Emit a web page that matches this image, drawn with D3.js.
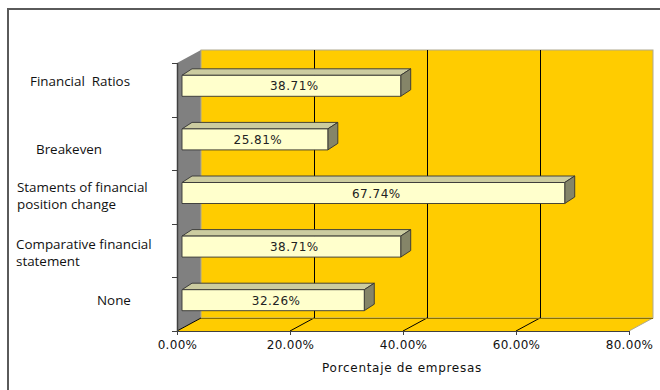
<!DOCTYPE html>
<html>
<head>
<meta charset="utf-8">
<script src="https://cdn.jsdelivr.net/npm/d3@7/dist/d3.min.js"></script>
<style>
  html, body { margin: 0; padding: 0; background: #fff; }
  svg { display: block; }
  .cat text, .cat tspan { white-space: pre; }
</style>
</head>
<body>
<svg id="chart" width="660" height="390"></svg>
<script>
// Category labels (one entry per line of text), values in percent, axis ticks
const categories = ["Financial Ratios", "Breakeven", "Statements change", "Comparative", "None"];
const categoryLines = [
  ["Financial  Ratios"],
  ["Breakeven"],
  ["Staments of financial", "position change"],
  ["Comparative financial", "statement"],
  ["None"]
];
const values = [38.71, 25.81, 67.74, 38.71, 32.26];
const tickValues = [0, 20, 40, 60, 80];
const axisTitle = "Porcentaje de empresas";

const svg = d3.select("#chart");

// Plot frame (front plane) and depth of the 3-D box
const frontLeft = 177, frontRight = 629, frontTop = 63, frontBottom = 331;
const depthX = 24, depthY = -13;

const x = d3.scaleLinear().domain([0, 80]).range([frontLeft, frontRight]);
const y = d3.scaleBand().domain(categories).range([frontTop, frontBottom]).padding(0);

// Outer chart border
svg.append("rect")
  .attr("x", 8).attr("y", 9).attr("width", 700).attr("height", 420)
  .attr("fill", "none").attr("stroke", "#5a5a5a").attr("stroke-width", 2);

const poly = pts => pts.map(p => p.join(",")).join(" ");

// Left side wall (grey)
svg.append("polygon")
  .attr("points", poly([[frontLeft, frontTop], [frontLeft + depthX, frontTop + depthY],
                        [frontLeft + depthX, frontBottom + depthY], [frontLeft, frontBottom]]))
  .attr("fill", "#808080");

// Back wall
svg.append("rect")
  .attr("x", frontLeft + depthX).attr("y", frontTop + depthY)
  .attr("width", frontRight - frontLeft).attr("height", frontBottom - frontTop)
  .attr("fill", "#FFCC00").attr("stroke", "#b0aa90").attr("stroke-width", 1);

// Floor
svg.append("polygon")
  .attr("points", poly([[frontLeft, frontBottom], [frontRight, frontBottom],
                        [frontRight + depthX, frontBottom + depthY], [frontLeft + depthX, frontBottom + depthY]]))
  .attr("fill", "#FFCC00");

// Floor right edge
svg.append("line")
  .attr("x1", frontRight).attr("y1", frontBottom)
  .attr("x2", frontRight + depthX).attr("y2", frontBottom + depthY)
  .attr("stroke", "#b0aa90").attr("stroke-width", 1);

// Gridlines: vertical on back wall, diagonal across the floor
const inner = tickValues.filter(v => v > 0 && v < 80);
const grid = svg.append("g").attr("stroke", "#000").attr("stroke-width", 1);
grid.selectAll("line.v").data(inner).join("line")
  .attr("class", "v")
  .attr("x1", d => Math.round(x(d) + depthX) + 0.5).attr("x2", d => Math.round(x(d) + depthX) + 0.5)
  .attr("y1", frontTop + depthY).attr("y2", frontBottom + depthY);
grid.selectAll("line.f").data(tickValues.filter(v => v < 80)).join("line")
  .attr("class", "f")
  .attr("x1", d => x(d)).attr("y1", frontBottom)
  .attr("x2", d => x(d) + depthX).attr("y2", frontBottom + depthY);
// Back edge line of the floor
grid.append("line")
  .attr("x1", frontLeft + depthX).attr("x2", frontRight + depthX)
  .attr("y1", frontBottom + depthY + 0.5).attr("y2", frontBottom + depthY + 0.5)
  .attr("stroke", "#8a7000");

// Axes
const axisColor = "#404040";
const xAxis = d3.axisBottom(x).tickValues(tickValues).tickSize(4).tickSizeOuter(0)
  .tickFormat(d => d3.format(".2f")(d) + "%");
const gx = svg.append("g").attr("transform", `translate(0,${frontBottom})`).call(xAxis);
gx.select(".domain").attr("stroke", axisColor);
gx.selectAll(".tick line").attr("stroke", axisColor);
gx.selectAll(".tick text")
  .attr("y", 9)
  .attr("font-family", "DejaVu Sans, Verdana, sans-serif")
  .attr("font-size", 12).attr("letter-spacing", 0.3)
  .attr("fill", "#111");

// Category axis: a line with ticks on band boundaries
const gy = svg.append("g");
gy.append("line")
  .attr("x1", frontLeft + 0.5).attr("x2", frontLeft + 0.5)
  .attr("y1", frontTop).attr("y2", frontBottom)
  .attr("stroke", axisColor).attr("stroke-width", 1.5);
const boundaries = categories.map(c => y(c)).concat([frontBottom]);
gy.selectAll("line.t").data(boundaries).join("line")
  .attr("class", "t")
  .attr("x1", frontLeft - 5).attr("x2", frontLeft)
  .attr("y1", d => Math.round(d) + 0.5).attr("y2", d => Math.round(d) + 0.5)
  .attr("stroke", axisColor);

// Category labels, hand-placed per line block
const labelLayout = [
  { x: 30, dy: -8 },
  { x: 36, dy: 6.5 },
  { x: 17, dy: -1 },
  { x: 16, dy: 2 },
  { x: 97, dy: -3.5 }
];
const lineHeight = 16.8;
const catText = svg.append("g").attr("class", "cat")
  .attr("font-family", "'Open Sans', sans-serif")
  .attr("font-size", 13.4).attr("fill", "#111");
categories.forEach((c, i) => {
  const lines = categoryLines[i];
  const cy = y(c) + y.bandwidth() / 2 + labelLayout[i].dy;
  const t = catText.append("text").attr("x", labelLayout[i].x);
  lines.forEach((ln, k) => {
    t.append("tspan")
      .attr("x", labelLayout[i].x)
      .attr("y", cy + (k - (lines.length - 1) / 2) * lineHeight + 4.5)
      .text(ln);
  });
});

// 3-D bars
const barOffX = 5, barOffY = -4;       // position of the bar front inside the box depth
const barDX = 10, barDY = -6.5;         // bar depth
const barH = 21;
const bars = svg.append("g").attr("stroke", "#333").attr("stroke-width", 0.9).attr("stroke-linejoin", "round");
categories.forEach((c, i) => {
  const x0 = x(0) + barOffX;
  const x1 = x(values[i]) + barOffX;
  const cy = y(c) + y.bandwidth() / 2 + barOffY;
  const yt = cy - barH / 2, yb = cy + barH / 2;
  // top face
  bars.append("polygon")
    .attr("points", poly([[x0, yt], [x0 + barDX, yt + barDY], [x1 + barDX, yt + barDY], [x1, yt]]))
    .attr("fill", "#CCCCA0");
  // end face
  bars.append("polygon")
    .attr("points", poly([[x1, yt], [x1 + barDX, yt + barDY], [x1 + barDX, yb + barDY], [x1, yb]]))
    .attr("fill", "#858568");
  // front face
  bars.append("rect")
    .attr("x", x0).attr("y", yt).attr("width", x1 - x0).attr("height", barH)
    .attr("fill", "#FFFFCC");
  // value label
  svg.append("text")
    .attr("x", (x0 + x1) / 2 + 3).attr("y", cy + 4.5)
    .attr("text-anchor", "middle")
    .attr("font-family", "DejaVu Sans, Verdana, sans-serif")
    .attr("font-size", 12).attr("letter-spacing", 0.5)
    .attr("fill", "#222")
    .text(d3.format(".2f")(values[i]) + "%");
});

// Axis title
svg.append("text")
  .attr("x", 402).attr("y", 372)
  .attr("text-anchor", "middle")
  .attr("font-family", "DejaVu Sans, Verdana, sans-serif")
  .attr("font-size", 12).attr("letter-spacing", 0.7)
  .attr("fill", "#111")
  .text(axisTitle);
</script>
</body>
</html>
